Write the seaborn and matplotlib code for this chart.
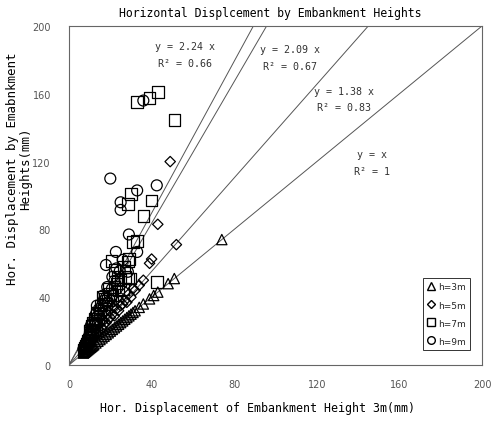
import numpy as np
import pandas as pd
import matplotlib
matplotlib.use("Agg")
import matplotlib.pyplot as plt
from matplotlib import font_manager
from matplotlib.lines import Line2D
import seaborn as sns

# ---------------- data ----------------
h3_x = [7, 7.5, 8, 8.5, 9, 9.5, 10, 10.5, 11, 11.5, 12, 13, 14, 15, 16, 17, 18, 19, 20,
        21, 22, 23, 24, 25, 26, 27, 28, 29, 30, 31, 32, 34, 36, 39, 41, 43, 48, 51, 74]
h3_y = [7, 7.5, 8, 8.5, 9, 9.5, 10, 10.5, 11, 11.5, 12, 13, 14, 15, 16, 17, 18, 19, 20,
        21, 22, 23, 24, 25, 26, 27, 28, 29, 30, 31, 32, 34, 36, 39, 41, 43, 48, 51, 74]

h5_x = [7, 7.5, 8, 8.5, 9, 9.5, 10, 10.5, 11, 11.5, 12, 13, 14, 15, 16, 17, 18, 19, 20,
        21, 22, 23, 24, 25, 26, 27, 28, 29, 30, 31, 32, 34, 36, 39, 40, 43, 49, 52,
        12.5, 14.5, 16.5, 18.5, 21.5, 24.5, 27.5]
h5_y = [8.5, 9.5, 10, 11, 11.5, 12.5, 13, 14, 15, 15.5, 16.5, 18, 19.5, 20, 22, 24, 25, 27, 28,
        30, 29, 33, 32, 35, 36, 38, 37, 42, 40, 45, 44, 47, 50, 60, 62.5, 83, 120, 71,
        20, 24, 26, 30, 34, 38, 43]

h7_x = [7, 7.5, 8, 8.5, 9, 9.5, 10, 10.5, 11, 11.6, 12, 13, 14, 15, 16.4, 17, 18, 19, 20,
        20.5, 21, 22, 22, 23, 24, 25, 26, 27, 28.5, 28.5, 29.5, 29, 30, 28.5, 31, 33, 36,
        40, 42.5, 33, 39, 43, 51,
        10, 11, 12.5, 13.5, 15.5, 17.5, 19.5, 23.5, 26.5]
h7_y = [9, 10, 11.5, 12.5, 14, 15, 16.5, 18, 19.5, 25, 21, 24, 27, 30, 40, 33, 36, 38, 42,
        61.5, 41, 56, 46, 48, 44, 50, 45, 52, 61, 51, 51, 62.5, 101, 95, 72.6, 73, 88,
        97, 49, 155, 157.5, 161, 144.5,
        20, 23, 27, 31, 35, 39, 45, 52, 58]

h9_x = [7, 7.5, 8, 8.5, 9, 9.5, 10, 10.5, 11, 12, 12.5, 13.5, 14, 15, 16, 17, 18, 19,
        20.8, 22, 24.6, 28.5, 17.9, 22.7, 33, 29, 25, 25, 20, 33, 42.5, 36,
        10.5, 11.5, 13, 14.5, 16.5, 18.5, 21, 23, 26]
h9_y = [9.5, 10.5, 12, 13.5, 15, 16, 18, 19, 21, 23, 26, 35, 29, 32, 35, 38, 40, 37,
        45, 49.6, 55.5, 55, 59, 66.7, 66.7, 77, 91.5, 96, 110, 103, 106, 156,
        23, 25, 30, 33, 41, 46, 52, 57, 62]

series_labels = ["h=3m", "h=5m", "h=7m", "h=9m"]
fit_slopes = [1.0, 1.38, 2.09, 2.24]
fit_r2 = ["1", "0.83", "0.67", "0.66"]
x_ticks = [0, 40, 80, 120, 160, 200]
y_ticks = [0, 40, 80, 120, 160, 200]

title = "Horizontal Displcement by Embankment Heights"
xlabel = "Hor. Displacement of Embankment Height 3m(mm)"
ylabel = "Hor. Displacement by Emabnkment\nHeights(mm)"

# ---------------- style ----------------
sns.set_theme(style="white")
avail = {f.name for f in font_manager.fontManager.ttflist}
narrow = "Liberation Sans Narrow" if "Liberation Sans Narrow" in avail else "DejaVu Sans"
tick_size = 8 if narrow != "DejaVu Sans" else 7
mono = "DejaVu Sans Mono"
plt.rcParams["font.family"] = ["DejaVu Sans"]

fig = plt.figure(figsize=(4.92, 4.27), dpi=100)
ax = fig.add_axes([69 / 492, 1 - 366 / 427, 413 / 492, 339 / 427])

frames = []
for lab, xs, ys in zip(series_labels, [h3_x, h5_x, h7_x, h9_x], [h3_y, h5_y, h7_y, h9_y]):
    frames.append(pd.DataFrame({"x": xs, "y": ys, "h": lab}))
df = pd.concat(frames, ignore_index=True)

marker_map = {"h=3m": "^", "h=5m": "D", "h=7m": "s", "h=9m": "o"}
size_map = {"h=3m": 55, "h=5m": 28, "h=7m": 70, "h=9m": 62}

# regression lines
line_x = np.array([0.0, 200.0])
for sl in fit_slopes:
    sns.lineplot(x=line_x, y=sl * line_x, ax=ax, color="#555555", linewidth=0.7,
                 zorder=1, legend=False)

for lab in series_labels:
    sub = df[df["h"] == lab]
    sns.scatterplot(data=sub, x="x", y="y", ax=ax, marker=marker_map[lab],
                    s=size_map[lab], facecolors="none", edgecolor="black",
                    linewidth=0.9, zorder=3, legend=False)

ax.set_xlim(0, 200)
ax.set_ylim(0, 200)
ax.set_xticks(x_ticks)
ax.set_yticks(y_ticks)
ax.set_xticklabels([str(t) for t in x_ticks], fontfamily=narrow, fontsize=tick_size, color="#555555")
ax.set_yticklabels([str(t) for t in y_ticks], fontfamily=narrow, fontsize=tick_size, color="#555555")
ax.tick_params(axis="both", direction="in", length=3, width=0.8, color="#555555")
ax.tick_params(axis="x", pad=10)
ax.tick_params(axis="y", pad=13)
for sp in ax.spines.values():
    sp.set_color("#666666")
    sp.set_linewidth(0.8)

ax.set_xlabel(xlabel, fontfamily=mono, fontsize=8.4, color="black")
ax.xaxis.set_label_coords((257 - 69) / 413, (366 - 402) / 339)
ax.set_ylabel(ylabel, fontfamily=mono, fontsize=9, color="black", linespacing=1.0)
ax.yaxis.set_label_coords((32 - 69) / 413, (366 - 169) / 339)

fig.text(270 / 492, 1 - 14 / 427, title, ha="center", va="center",
         fontfamily=mono, fontsize=8.3, color="black")

# fit annotations
ann_pos = [(146.5, 124.5, 114.5), (133.3, 161.7, 152.2), (106.8, 186.4, 176.4), (56.0, 188.2, 178.2)]
for sl, r2, (tx, ty1, ty2) in zip(fit_slopes, fit_r2, ann_pos):
    eq = "y = x" if sl == 1.0 else f"y = {sl:.2f} x"
    ax.text(tx, ty1, eq, ha="center", va="center", fontfamily=mono, fontsize=7.2, color="#333333")
    ax.text(tx, ty2, f"R\u00b2 = {r2}", ha="center", va="center", fontfamily=mono,
            fontsize=7.2, color="#333333")

handles = [Line2D([], [], linestyle="none", marker=marker_map[l], markersize=5.5 if l != "h=5m" else 4.5,
                  markerfacecolor="none", markeredgecolor="black", markeredgewidth=1.0)
           for l in series_labels]
leg = ax.legend(handles, series_labels, loc="lower right", bbox_to_anchor=(0.971, 0.044),
                frameon=True, fancybox=False, framealpha=1, edgecolor="#333333",
                prop={"family": narrow, "size": 6.5}, labelspacing=1.0,
                handlelength=0.8, handletextpad=0.3, borderpad=0.5, borderaxespad=0)
leg.get_frame().set_linewidth(0.7)

fig.savefig("out.png", dpi=100)
